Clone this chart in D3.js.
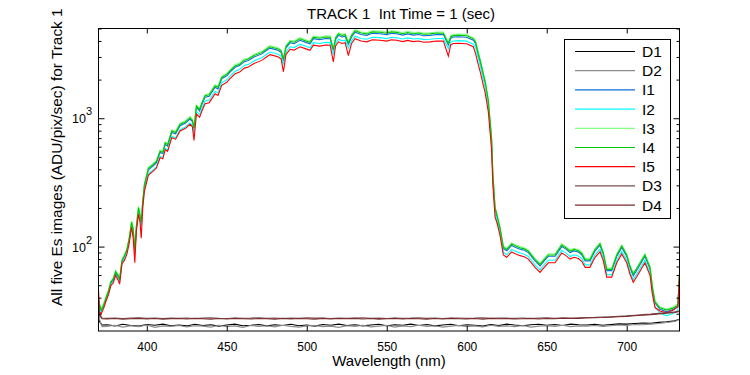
<!DOCTYPE html>
<html><head><meta charset="utf-8">
<script src="https://cdn.jsdelivr.net/npm/d3@7"></script>
<style>
body{margin:0;background:#fff;}
text{font-family:"Liberation Sans",Arial,sans-serif;fill:#000;}
</style></head>
<body><svg id="c" width="750" height="375"></svg>
<script>
// ---- data ----
const wl = [369.8,370.5,371.5,373,374.5,376,377.5,379,380.5,382,
383,384.5,386,387.5,389,390.5,391.5,392.5,393.5,394.8,
395.8,396.5,397.5,398.5,401,404,406,408.3,410,411.5,
413,415.6,418,420.8,424,427,428.5,429.5,431,433,
434.5,436.4,439,442.7,444.5,446.8,450,452,455.2,458,
461,463.5,467,471.9,475,477,480,482.3,484,485.4,
487,489.6,492,495.8,499,502,504.1,508,512,514.6,
516.6,518,519.8,522,524,526,528,530.2,534,537.5,
541,545.8,550,553,556.2,560,563,566.6,570,573,
577,581,585.4,588.5,590,591.6,595,600,602,604.1,
605.5,607.3,608.5,610.4,611.5,613.5,614.5,615.5,616.3,617.7,
619.1,620.8,622.9,625,628.1,630,633.3,636,638.5,642.7,
645.8,648,651,655.2,659.4,662,664.6,667,669.8,672,
674,677,680.2,683.3,685.4,687.5,690.6,693.8,696.9,700,
702,704.1,707.3,711.4,714.6,716,717.7,720.8,725,729.2,
732,733];

const I1 = [38.5,34.5,31.8,34.5,39.3,44,52,55,62.5,58.5,
54.5,77,84,92.5,113,151,134,91,141,196,
170,152,222,296,396,425,449,540,530,626,
606,774,755,874,912,984,941,820,1213,1141,
1285,1456,1485,1743,1690,2025,2139,2282,2493,2569,
2760,2817,2999,3171,3381,3514,3438,3371,3247,2815,
3533,3868,3810,4049,3915,3801,4164,4097,4183,4164,
3370,4107,4422,4298,4355,3770,4298,4680,4488,4422,
4584,4555,4479,4584,4546,4441,4536,4441,4488,4393,
4422,4488,4479,3720,4202,4288,4317,4278,4164,4049,
3820,3094,2722,2149,1891,1337,955,688,363,196,
168,137,96.5,92.6,102,99.3,95.5,93.6,89.8,77.4,
70.7,76.4,84,84,100,95.5,89.8,92.6,90.7,86,
77.4,77.4,92.6,102,86.9,65,65,84,98.4,84,
68.8,59.2,68.8,84,66.9,47.8,36.3,32.5,31,32.5,
34.4,59];

const I2 = [37.5,33.5,30.7,33.5,38.1,42.8,50.2,53,60.5,56.7,
53,74.4,80.9,89.3,109.7,147,130,88,136,186,
160,143,206,276,369,396,418,503,494,583,
565,721,703,814,850,917,877,765,1130,1064,
1197,1357,1384,1624,1575,1887,1994,2127,2323,2394,
2572,2626,2795,2955,3151,3275,3204,3142,3026,2625,
3293,3605,3551,3774,3649,3542,3880,3818,3898,3880,
3142,3827,4121,4005,4058,3516,4005,4361,4183,4121,
4272,4245,4174,4272,4236,4139,4228,4139,4183,4094,
4121,4183,4174,3471,3916,3996,4023,3987,3880,3774,
3560,2884,2537,2003,1762,1246,890,641,338,182,
157,127,90,86.3,95.2,92.6,89,87.2,83.7,72.1,
65.9,71.2,78.3,78.3,93.5,89,83.7,86.3,84.6,80.1,
72.1,72.1,86.3,95.2,81,60.5,60.5,78.3,91.7,78.3,
64.1,55.2,64.1,78.3,62.3,44.5,33.8,30.3,28.9,30.3,
32,58];

const I3 = [40,36,33,36,41,46,54,57,65,61,
57,80,87,96,118,158,140,96,148,205,
178,160,232,310,415,445,470,565,555,655,
635,810,790,915,955,1030,985,860,1270,1195,
1345,1525,1555,1825,1770,2120,2240,2390,2610,2690,
2890,2950,3140,3320,3540,3680,3600,3530,3400,2950,
3700,4050,3990,4240,4100,3980,4360,4290,4380,4360,
3530,4300,4630,4500,4560,3950,4500,4900,4700,4630,
4800,4770,4690,4800,4760,4650,4750,4650,4700,4600,
4630,4700,4690,3900,4400,4490,4520,4480,4360,4240,
4000,3240,2850,2250,1980,1400,1000,720,380,205,
176,143,101,97,107,104,100,98,94,81,
74,80,88,88,105,100,94,97,95,90,
81,81,97,107,91,68,68,88,103,88,
72,62,72,88,70,50,38,34,32.5,34,
36,62];

const I4 = [39,35,32,35,40,45,53,56,64,60,
56,78,85,94,116,155,137,93,145,201,
174,155,227,304,407,436,461,554,544,642,
622,794,774,897,936,1010,965,840,1245,1171,
1318,1495,1524,1789,1735,2078,2195,2342,2558,2636,
2832,2891,3077,3254,3469,3606,3528,3459,3332,2880,
3626,3969,3910,4155,4018,3900,4273,4204,4292,4273,
3440,4214,4537,4410,4469,3860,4410,4802,4606,4537,
4704,4675,4596,4704,4665,4557,4655,4557,4606,4508,
4537,4606,4596,3810,4312,4400,4430,4390,4273,4155,
3920,3175,2793,2205,1940,1372,980,706,372,201,
172,140,99,95,105,102,98,96,92,79,
72.5,78,86,86,103,98,92,95,93,88,
79,79,95,105,89,66.5,66.5,86,101,86,
70.5,61,70.5,86,68.5,49,37,33.3,32,33.3,
35,61];

const I5 = [46,31,30,33,37.7,42,49.7,52,59.8,55,
51,73.6,78,87,106,142,115,75,133,180,
153,116,204,270,361,387,409,492,483,570,
552,705,687,796,831,896,857,672,1080,1016,
1143,1296,1322,1551,1505,1802,1904,2032,2219,2287,
2457,2508,2669,2822,3009,3128,3060,3001,2890,2300,
3145,3443,3392,3604,3485,3383,3706,3647,3723,3706,
2750,3655,3936,3825,3876,3080,3825,4165,3995,3936,
4080,4055,3987,4080,4046,3953,4038,3953,3995,3910,
3936,3995,3987,3040,3740,3817,3842,3808,3706,3604,
3200,2592,2280,1800,1584,1120,800,576,304,170,
150,122,86,82.5,91,88.4,85,83.3,79.9,68.9,
62.9,68,74.8,74.8,89.3,85,79.9,82.5,80.8,76.5,
68.9,68.9,82.5,91,77.4,57.8,57.8,74.8,87.6,74.8,
61.2,52.7,61.2,74.8,59.5,43,33.5,31.5,30.5,32,
34,62];

const wlDark = [369.8,370.5,372,
375,380,385,390,395,400,405,410,415,420,
425,430,435,440,445,450,455,460,465,470,
475,480,485,490,495,500,505,510,515,520,
525,530,535,540,545,550,555,560,565,570,
575,580,585,590,595,600,605,610,615,620,
625,630,635,640,645,650,655,660,665,670,
675,680,685,690,695,700,705,710,715,720,
725,730,733];

const D1 = [30,26,24.5,
24.6,24.1,24.8,24.3,24.0,24.7,24.4,24.9,24.2,24.5,
24.1,24.8,24.3,24.6,24.0,24.5,24.9,24.2,24.4,24.7,
24.1,24.6,24.3,24.8,24.2,24.5,24.0,24.7,24.4,24.9,
24.3,24.6,24.1,24.5,24.8,24.2,24.6,24.4,24.9,24.3,
24.7,24.1,24.5,24.8,24.2,24.6,24.4,24.0,24.7,24.3,
24.9,24.5,24.2,24.6,24.8,24.4,24.7,24.3,24.9,24.6,
24.5,24.8,24.4,24.7,25.0,24.9,25.2,25.4,25.3,25.7,
26.0,26.4,27.2];

const D2 = [40,27,23.8,
23.9,24.4,23.6,24.2,23.8,24.5,23.5,24.1,23.9,24.3,
23.7,24.2,24.0,23.6,24.4,23.8,24.1,23.5,24.3,23.9,
24.2,23.7,24.4,23.9,23.6,24.1,24.3,23.8,24.0,23.5,
24.2,23.9,24.4,23.7,24.0,24.3,23.6,24.1,23.8,24.4,
23.9,24.2,23.6,24.0,24.3,23.8,24.1,23.7,24.4,23.9,
24.1,23.8,24.3,23.6,24.0,24.2,23.9,24.4,23.8,24.1,
24.0,24.3,23.9,24.2,24.5,24.3,24.7,24.6,24.9,25.2,
25.6,26.1,27.0];

const D3 = [38,30,27.8,
27.6,27.8,27.5,27.7,27.9,27.6,27.8,27.5,27.7,27.6,
27.8,27.5,27.7,27.9,27.6,27.5,27.8,27.6,27.7,27.9,
27.6,27.8,27.5,27.7,27.6,27.9,27.7,27.8,27.5,27.7,
27.6,27.8,27.9,27.6,27.7,27.5,27.8,27.6,27.7,27.9,
27.6,27.8,27.5,27.7,27.8,27.6,27.7,27.9,27.6,27.8,
27.7,27.6,27.8,27.5,27.7,27.9,27.6,27.8,27.7,27.9,
28.0,28.1,28.3,28.4,28.7,28.9,29.2,29.5,29.8,30.2,
30.6,31.0,31.5];

const D4 = [36,29,27.4,
27.3,27.5,27.2,27.4,27.6,27.3,27.5,27.2,27.4,27.5,
27.3,27.6,27.4,27.2,27.5,27.3,27.6,27.4,27.3,27.5,
27.4,27.2,27.6,27.3,27.5,27.4,27.2,27.6,27.3,27.5,
27.4,27.6,27.3,27.5,27.2,27.4,27.6,27.3,27.5,27.4,
27.2,27.5,27.3,27.6,27.4,27.3,27.5,27.2,27.6,27.4,
27.5,27.3,27.4,27.6,27.3,27.5,27.4,27.7,27.5,27.6,
27.8,27.9,28.0,28.2,28.4,28.6,28.9,29.2,29.5,29.9,
30.3,30.7,31.2];

const seriesNames = ["D1","D2","I1","I2","I3","I4","I5","D3","D4"];
const seriesColors = ["#000000","#8c8c8c","#0a6fdc","#00ffff","#80ff80","#00c800","#ff0000","#7a5050","#7a2c2c"];
const xTicks = [400,450,500,550,600,650,700];
const yMajor = [100,1000];
const yMinor = [30,40,50,60,70,80,90,200,300,400,500,600,700,800,900,2000,3000,4000,5000];
const titleText = "TRACK 1  Int Time = 1 (sec)";
const xLabel = "Wavelength (nm)";
const yLabel = "All five Es images (ADU/pix/sec) for Track 1";

// ---- drawing ----
const svg = d3.select("#c");
const L = 98.5, R = 679.5, T = 28.5, B = 331;
const x = d3.scaleLinear().domain([369.8, 733]).range([L, R]);
const y = d3.scaleLog().domain([22, 5000]).range([B, T]);

svg.append("rect").attr("width",750).attr("height",375).attr("fill","#fff");

svg.append("defs").append("clipPath").attr("id","clip")
  .append("rect").attr("x",L).attr("y",T).attr("width",R-L).attr("height",B-T);

const seriesData = {
  D1: wlDark.map((w,i)=>[w,D1[i]]),
  D2: wlDark.map((w,i)=>[w,D2[i]]),
  I1: wl.map((w,i)=>[w,I1[i]]),
  I2: wl.map((w,i)=>[w,I2[i]]),
  I3: wl.map((w,i)=>[w,I3[i]]),
  I4: wl.map((w,i)=>[w,I4[i]]),
  I5: wl.map((w,i)=>[w,I5[i]]),
  D3: wlDark.map((w,i)=>[w,D3[i]]),
  D4: wlDark.map((w,i)=>[w,D4[i]])
};
const line = d3.line().x(d=>x(d[0])).y(d=>y(d[1]));
const g = svg.append("g").attr("clip-path","url(#clip)");
seriesNames.forEach((n,i)=>{
  g.append("path").datum(seriesData[n]).attr("d",line)
   .attr("fill","none").attr("stroke",seriesColors[i]).attr("stroke-width",1.1)
   .attr("stroke-linejoin","miter");
});

// axes box
svg.append("rect").attr("x",L).attr("y",T).attr("width",R-L).attr("height",B-T)
  .attr("fill","none").attr("stroke","#000").attr("stroke-width",1);

// x axis bottom
const xb = svg.append("g").attr("transform",`translate(0,${B})`)
  .call(d3.axisBottom(x).tickValues(xTicks).tickSizeInner(-5).tickSizeOuter(0).tickPadding(11));
xb.select(".domain").remove();
xb.selectAll("text").attr("font-size",12).attr("font-family","Liberation Sans, Arial, sans-serif");
const xt = svg.append("g").attr("transform",`translate(0,${T})`)
  .call(d3.axisTop(x).tickValues(xTicks).tickSizeInner(-5).tickSizeOuter(0).tickFormat(""));
xt.select(".domain").remove();

// y axis ticks left/right
const yl = svg.append("g").attr("transform",`translate(${L},0)`)
  .call(d3.axisLeft(y).tickValues(yMajor).tickSizeInner(-6).tickSizeOuter(0).tickFormat(""));
yl.select(".domain").remove();
const ylm = svg.append("g").attr("transform",`translate(${L},0)`)
  .call(d3.axisLeft(y).tickValues(yMinor).tickSizeInner(-3).tickSizeOuter(0).tickFormat(""));
ylm.select(".domain").remove();
const yr = svg.append("g").attr("transform",`translate(${R},0)`)
  .call(d3.axisRight(y).tickValues(yMajor).tickSizeInner(-6).tickSizeOuter(0).tickFormat(""));
yr.select(".domain").remove();
const yrm = svg.append("g").attr("transform",`translate(${R},0)`)
  .call(d3.axisRight(y).tickValues(yMinor).tickSizeInner(-3).tickSizeOuter(0).tickFormat(""));
yrm.select(".domain").remove();

// y major labels 10^n
yMajor.forEach(v=>{
  const t = svg.append("text").attr("x",72).attr("y",y(v)+5).attr("font-size",12.5);
  t.append("tspan").text("10");
  t.append("tspan").attr("dy",-8).attr("font-size",11).text(String(Math.round(Math.log10(v))));
});

// title and labels
svg.append("text").attr("x",401).attr("y",19).attr("text-anchor","middle").attr("font-size",15)
  .style("white-space","pre").text(titleText);
svg.append("text").attr("x",389).attr("y",366).attr("text-anchor","middle").attr("font-size",15).text(xLabel);
svg.append("text").attr("transform","translate(62,306) rotate(-90)").attr("text-anchor","start").attr("font-size",15.4).text(yLabel);

// legend
const lg = svg.append("g");
lg.append("rect").attr("x",564.5).attr("y",39.5).attr("width",106).attr("height",179)
  .attr("fill","#fff").attr("stroke","#000").attr("stroke-width",1);
seriesNames.forEach((n,i)=>{
  const yy = 51.5 + i*19.2;
  lg.append("line").attr("x1",575).attr("x2",635).attr("y1",yy).attr("y2",yy)
    .attr("stroke",seriesColors[i]).attr("stroke-width",1.2);
  lg.append("text").attr("x",642).attr("y",yy+5.5).attr("font-size",15.5).text(n);
});
</script>
</body></html>
